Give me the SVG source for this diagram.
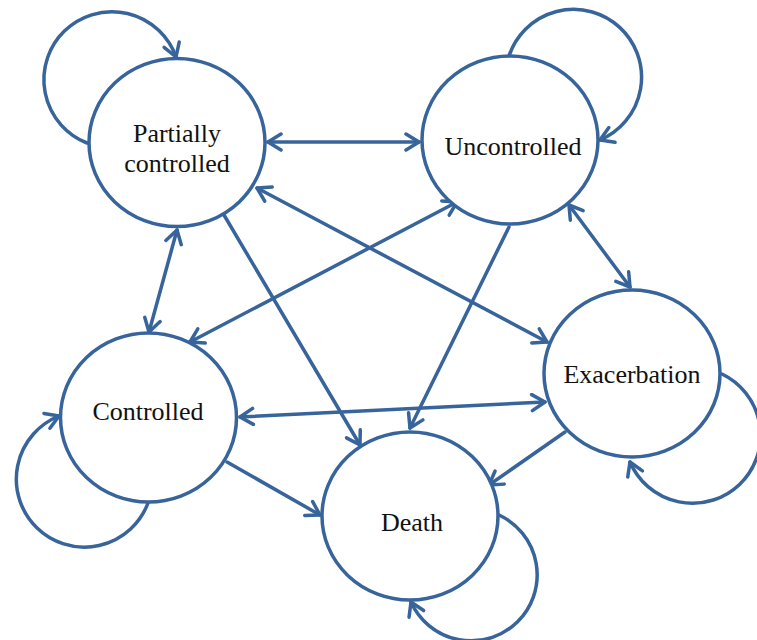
<svg xmlns="http://www.w3.org/2000/svg" width="757" height="640" viewBox="0 0 757 640">
<style>
.node{fill:#fff;stroke:#37649b;stroke-width:3.5}
.lbl{font-family:"Liberation Serif","Times New Roman",serif;font-size:26px;fill:#111;text-anchor:middle}
.edge{fill:none;stroke:#37649b;stroke-width:3.5;stroke-linecap:round}
</style>
<defs>
<marker id="ah" viewBox="0 0 20 20" refX="16" refY="10" markerWidth="20" markerHeight="20" markerUnits="userSpaceOnUse" orient="auto-start-reverse">
<path d="M3,2 L16,10 L3,18" fill="none" stroke="#37649b" stroke-width="3.5" stroke-linecap="round" stroke-linejoin="round"/>
</marker>
</defs>
<rect width="757" height="640" fill="#fff"/>
<g id="connectors">
<path class="edge" d="M87,143 A68,68 0 1 1 176,57" marker-end="url(#ah)"/>
<path class="edge" d="M509,56 A68,68 0 1 1 600,140" marker-end="url(#ah)"/>
<path class="edge" d="M148,503 A68,68 0 1 1 59,416" marker-end="url(#ah)"/>
<path class="edge" d="M722,374 A68,68 0 1 1 630,462" marker-end="url(#ah)"/>
<path class="edge" d="M499,515 A66,66 0 1 1 411,602" marker-end="url(#ah)"/>
<line class="edge" x1="268" y1="142" x2="419" y2="142" marker-start="url(#ah)" marker-end="url(#ah)"/>
<line class="edge" x1="177" y1="230" x2="149" y2="332" marker-start="url(#ah)" marker-end="url(#ah)"/>
<line class="edge" x1="224" y1="215" x2="360" y2="445" marker-end="url(#ah)"/>
<line class="edge" x1="257" y1="188" x2="547" y2="342" marker-start="url(#ah)" marker-end="url(#ah)"/>
<line class="edge" x1="457" y1="202" x2="190" y2="342" marker-start="url(#ah)" marker-end="url(#ah)"/>
<line class="edge" x1="509" y1="227" x2="410" y2="428" marker-end="url(#ah)"/>
<line class="edge" x1="569" y1="205" x2="630" y2="287" marker-start="url(#ah)" marker-end="url(#ah)"/>
<line class="edge" x1="240" y1="417" x2="545" y2="402" marker-start="url(#ah)" marker-end="url(#ah)"/>
<line class="edge" x1="227" y1="462" x2="320" y2="515" marker-end="url(#ah)"/>
<line class="edge" x1="565" y1="432" x2="489" y2="485" marker-end="url(#ah)"/>
</g>
<g id="partially-controlled">
<ellipse class="node" cx="177" cy="142.5" rx="88" ry="84"/>
<text class="lbl" x="177" y="142">Partially</text>
<text class="lbl" x="177" y="172">controlled</text>
</g>
<g id="uncontrolled">
<ellipse class="node" cx="510" cy="140" rx="88" ry="84"/>
<text class="lbl" x="513" y="155">Uncontrolled</text>
</g>
<g id="controlled">
<ellipse class="node" cx="148.5" cy="417.5" rx="88" ry="84.5"/>
<text class="lbl" x="148" y="420">Controlled</text>
</g>
<g id="exacerbation">
<ellipse class="node" cx="632" cy="373.5" rx="88" ry="83.5"/>
<text class="lbl" x="632" y="383">Exacerbation</text>
</g>
<g id="death">
<ellipse class="node" cx="410" cy="516" rx="88" ry="84"/>
<text class="lbl" x="412" y="531">Death</text>
</g>
</svg>
